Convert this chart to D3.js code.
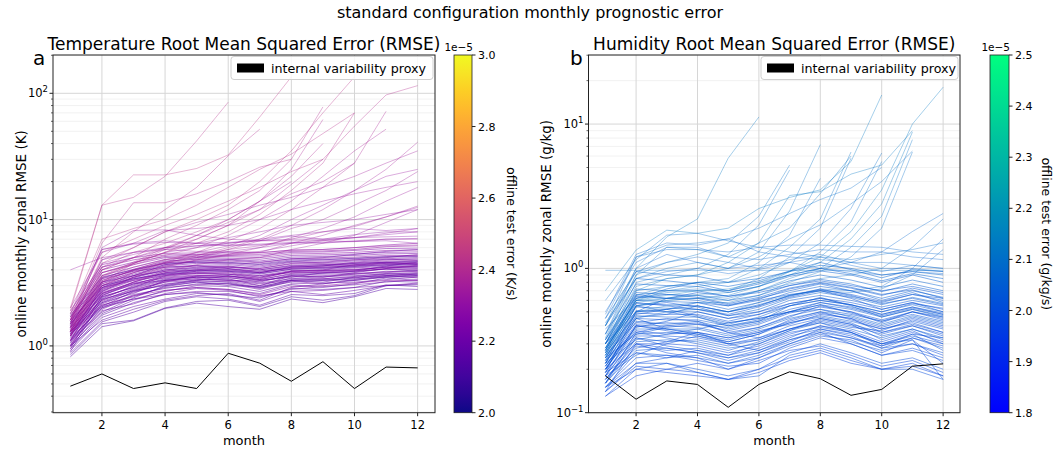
<!DOCTYPE html>
<html>
<head>
<meta charset="utf-8">
<script src="https://cdn.jsdelivr.net/npm/d3@7"></script>
<style>
body { margin: 0; background: #fff; }
text { font-family: "DejaVu Sans", sans-serif; fill: #000; }
</style>
</head>
<body>
<div id="chart"></div>
<script>
// months on x axis
const months = [1, 2, 3, 4, 5, 6, 7, 8, 9, 10, 11, 12];
const monthTicks = [2, 4, 6, 8, 10, 12];

// internal variability proxy (black line)
const tempProxy = [0.48, 0.60, 0.46, 0.51, 0.46, 0.875, 0.73, 0.525, 0.75, 0.46, 0.68, 0.67];
const humProxy = [0.18, 0.124, 0.166, 0.157, 0.109, 0.157, 0.192, 0.172, 0.132, 0.145, 0.21, 0.218];

// temperature RMSE (K), one row per run, months 1..12 (shorter rows = run stopped)
const tempCore = [
  [0.82,1.42,1.58,1.98,2.18,2.05,1.95,2.35,2.2,2.45,2.85,2.8],
  [0.88,1.55,1.85,2.25,2.45,2.35,2.1,2.55,2.5,2.6,3.05,2.95],
  [0.92,1.68,2.05,2.35,2.6,2.55,2.25,2.7,2.55,2.75,3.0,3.1],
  [0.95,1.75,2.2,2.55,2.65,2.5,2.4,2.85,2.8,2.9,3.25,3.2],
  [0.98,1.9,2.15,2.6,2.85,2.75,2.45,2.8,2.95,3.05,3.2,3.35],
  [1.0,1.8,2.3,2.75,2.9,2.8,2.6,3.05,2.9,3.1,3.45,3.3],
  [1.02,2.0,2.35,2.7,3.0,2.95,2.7,3.1,3.15,3.2,3.35,3.5],
  [1.05,1.95,2.5,2.9,3.05,3.1,2.8,3.25,3.1,3.35,3.6,3.45],
  [1.08,2.1,2.45,2.95,3.2,3.0,2.95,3.3,3.35,3.3,3.55,3.65],
  [1.1,2.15,2.65,3.1,3.25,3.25,3.0,3.45,3.4,3.55,3.75,3.6],
  [1.12,2.05,2.7,3.05,3.35,3.35,3.15,3.4,3.55,3.6,3.7,3.8],
  [1.15,2.25,2.75,3.25,3.4,3.3,3.25,3.6,3.5,3.7,3.9,3.85],
  [1.18,2.3,2.85,3.3,3.5,3.5,3.2,3.65,3.7,3.75,3.85,4.0],
  [1.2,2.4,2.95,3.4,3.55,3.6,3.35,3.7,3.75,3.9,4.05,3.95],
  [1.22,2.35,3.0,3.5,3.65,3.55,3.45,3.85,3.8,3.85,4.1,4.15],
  [1.25,2.5,3.1,3.55,3.75,3.7,3.5,3.9,3.95,4.0,4.2,4.1],
  [1.28,2.55,3.05,3.65,3.8,3.85,3.6,3.95,4.0,4.15,4.25,4.3],
  [1.3,2.6,3.2,3.7,3.9,3.9,3.7,4.05,4.1,4.2,4.35,4.25],
  [1.32,2.7,3.3,3.8,4.0,3.95,3.8,4.15,4.2,4.3,4.4,4.45],
  [1.35,2.75,3.35,3.9,4.1,4.05,3.9,4.25,4.3,4.35,4.55,4.5],
  [1.38,2.85,3.45,4.0,4.15,4.2,4.0,4.35,4.4,4.5,4.6,4.65],
  [1.4,2.9,3.5,4.1,4.3,4.25,4.1,4.45,4.5,4.55,4.7,4.75],
  [1.42,3.0,3.6,4.2,4.35,4.4,4.2,4.6,4.55,4.7,4.85,4.8],
  [1.45,3.1,3.7,4.3,4.5,4.5,4.3,4.65,4.7,4.8,4.9,5.0],
  [1.48,3.2,3.8,4.4,4.6,4.55,4.45,4.8,4.85,4.9,5.05,5.1],
  [1.5,3.3,3.95,4.55,4.7,4.7,4.55,4.9,4.95,5.05,5.2,5.2],
  [1.55,3.45,4.05,4.7,4.85,4.85,4.7,5.05,5.1,5.2,5.35,5.4],
  [1.6,3.6,4.2,4.85,5.0,4.95,4.85,5.2,5.25,5.35,5.5,5.55],
  [1.65,3.8,4.4,5.0,5.1,5.1,5.0,5.35,5.4,5.5,5.7,5.75],
  [1.7,4.0,4.6,5.1,5.25,5.2,5.15,5.5,5.55,5.7,5.9,5.95],
  [1.8,4.2,4.8,5.25,5.3,5.35,5.3,5.6,5.65,5.8,6.1,6.2],
  [1.9,4.4,5.0,5.4,5.45,5.5,5.45,5.75,5.8,6.0,6.3,6.5],
  [1.0,2.2,2.6,3.3,3.5,3.4,3.0,3.6,3.5,3.8,4.1,4.3],
  [1.1,1.85,2.4,3.0,3.3,3.6,3.3,3.5,3.8,3.9,4.3,4.6],
  [1.3,2.2,2.75,3.0,3.2,3.1,2.9,3.2,3.3,3.4,3.5,3.55],
  [1.2,2.6,3.1,3.3,3.4,3.3,3.1,3.3,3.4,3.5,3.6,3.7],
  [1.05,2.45,2.9,3.6,3.9,4.1,3.8,4.2,4.3,4.6,4.8,4.9],
  [1.15,2.0,2.55,2.85,3.1,3.15,2.85,3.3,3.2,3.5,3.6,3.7],
  [1.25,2.8,3.4,3.7,3.8,3.7,3.6,3.8,3.9,4.0,4.2,4.2],
  [1.35,2.3,2.8,3.2,3.6,3.7,3.4,3.9,4.0,4.4,4.6,4.4],
  [0.9,2.35,2.7,3.2,3.3,3.2,2.9,3.35,3.3,3.45,3.7,3.75],
  [1.4,2.45,2.9,3.35,3.5,3.45,3.3,3.55,3.6,3.7,3.8,3.9],
  [1.5,2.65,3.15,3.45,3.6,3.55,3.35,3.75,3.85,3.95,4.05,4.0],
  [1.6,2.9,3.3,3.6,3.75,3.8,3.5,3.9,3.95,4.05,4.15,4.35],
  [1.45,3.4,3.9,4.2,4.3,4.1,3.9,4.1,4.2,4.3,4.5,4.6],
  [1.2,2.9,3.6,4.4,4.7,4.8,4.6,4.9,5.0,5.3,5.6,5.8],
  [1.7,3.2,3.6,3.9,4.0,4.0,3.8,4.2,4.3,4.5,4.6,4.7],
  [1.1,2.7,3.5,4.0,4.2,4.3,4.0,4.3,4.4,4.4,4.5,4.5],
  [1.0,1.6,1.95,2.3,2.5,2.6,2.3,2.9,3.1,3.3,3.5,3.6],
  [0.95,2.5,3.2,3.8,4.0,4.2,4.1,4.5,4.6,4.8,5.0,5.3],
  [1.3,2.1,2.5,2.75,2.9,2.8,2.55,2.95,3.0,3.15,3.3,3.3],
  [1.55,3.0,3.4,3.75,3.95,3.9,3.75,4.05,4.15,4.25,4.4,4.4],
  [1.75,3.5,4.0,4.5,4.6,4.6,4.4,4.7,4.8,4.95,5.1,5.15],
  [1.25,2.05,2.35,2.55,2.7,2.7,2.5,2.7,2.75,2.9,3.0,3.15],
  [0.85,1.5,1.6,2.0,2.25,2.3,2.05,2.45,2.3,2.5,3.0,3.05]
];
const tempOutliers = [
  [2.0,5.5,6.5,6.8,6.5,6.6,6.8,7.0,7.0,7.2,7.3,7.4],
  [1.6,4.8,5.5,6.0,6.2,6.3,6.4,6.6,6.5,6.8,7.0,7.1],
  [1.5,6.0,8.2,8.3,7.5,7.0,6.8,6.8,6.8,6.7,7.0,7.0],
  [1.8,5.8,6.4,6.6,6.5,6.2,6.3,6.5,6.6,6.7,6.8,6.5],
  [4.0,5.0,5.5,5.8,5.6,5.6,5.5,5.7,5.8,6.0,6.2,6.3],
  [1.4,3.8,4.5,5.5,6.0,6.5,7.0,7.5,8.0,8.5,8.2,8.5],
  [1.6,4.2,5.0,5.8,6.2,6.5,6.8,7.4,7.0,7.6,8.0,8.0],
  [2.0,13,15,22,42,85],
  [1.9,13,22.6,22.6,25.4,32.5,65,135],
  [1.5,5,8,12,18,32,52],
  [1.7,5.5,7,9,11,14,18,24,30,55,97,115],
  [1.6,4.5,6,8,10,13,20,35,70,135],
  [1.4,4,5,7,9,12,17,30,78],
  [1.3,3.8,4.5,5.5,7,9,14,25,62],
  [1.5,4.2,5.5,6.5,8,10,14,22,40],
  [1.2,3.5,4.5,5.5,6.5,8,11,17,28,70],
  [1.4,3.6,4.4,5.2,6,7.5,10,14,22,35,52],
  [1.3,3.2,4.0,4.8,5.5,6.8,8.5,12,18,28,72],
  [1.2,3.0,3.8,4.5,5.2,6,7,9,12,17,25,41],
  [1.3,3.3,4,4.6,5,5.8,6.8,8.5,10,13,17,24],
  [1.1,2.8,3.5,4.2,4.8,5.3,6,7.2,8.5,10.5,14,18],
  [1.2,3.0,3.6,4.3,4.8,5.2,5.5,6.5,7.5,9,10.5,12.5],
  [1.35,3.4,4.2,4.8,5.2,5.8,6.2,7,8,8.8,10.5,12.8],
  [1.0,2.6,3.2,3.9,4.4,4.8,5,5.8,6.5,7.5,9.5,12],
  [1.25,3.1,3.9,4.5,4.9,5.3,5.6,6.2,6.8,7.2,7.8,8.5],
  [1.3,3.2,4.0,4.6,5.0,5.6,6,6.5,6.9,7.2,7.6,8.0],
  [1.8,7,8.5,10,13,18,25,33,48,70],
  [1.6,5.8,6.5,8.2,8.5,9,10,12,14,16,18,20],
  [1.3,4.0,5.0,6.0,7.5,9.5,12,16,20,28],
  [1.2,3.2,4.5,5.8,7.5,10,14,20],
  [1.3,3.6,4.6,6.0,7.0,9.0,12,19,30],
  [1.1,3.0,3.8,4.6,5.5,6.2,7.5,10,13,17,22,25],
  [1.5,4.5,5.3,6.0,6.5,7.2,8,9,9.5,10,11,12],
  [1.6,6.5,13.6,13.6,16,20,26,30],
  [1.4,4.8,6,8,9.5,11,13,15,18,22,28,35]
];
// offline test error of each run (units of 1e-5 K/s)
const tempCoreOffline = [2.14,2.16,2.18,2.15,2.2,2.17,2.19,2.22,2.16,2.21,2.18,2.23,2.2,2.15,2.24,2.19,
  2.22,2.17,2.25,2.21,2.18,2.26,2.2,2.23,2.19,2.27,2.22,2.24,2.28,2.25,2.3,2.29,
  2.2,2.18,2.16,2.21,2.23,2.17,2.22,2.24,2.19,2.21,2.25,2.26,2.22,2.2,2.18,2.23,2.17,2.24,2.27,2.16,2.15,2.2,2.14];
const tempOutlierOffline = [2.3,2.28,2.32,2.29,2.31,2.3,2.29,2.42,2.44,2.4,2.41,2.43,2.4,2.38,2.39,2.41,
  2.37,2.38,2.36,2.35,2.34,2.33,2.35,2.32,2.31,2.3,2.42,2.34,2.37,2.36,2.38,2.33,2.31,2.4,2.35];

// humidity RMSE (g/kg)
const humCore = [
  [0.13,0.2,0.19,0.18,0.17,0.19,0.23,0.26,0.22,0.2,0.21,0.18],
  [0.14,0.22,0.22,0.2,0.18,0.2,0.26,0.3,0.26,0.22,0.24,0.2],
  [0.15,0.24,0.25,0.23,0.21,0.22,0.28,0.33,0.3,0.25,0.28,0.24],
  [0.15,0.26,0.24,0.25,0.22,0.24,0.3,0.35,0.31,0.27,0.3,0.26],
  [0.16,0.27,0.28,0.26,0.24,0.26,0.32,0.37,0.33,0.28,0.33,0.28],
  [0.16,0.29,0.27,0.28,0.25,0.28,0.34,0.38,0.35,0.3,0.34,0.3],
  [0.17,0.3,0.3,0.29,0.26,0.29,0.35,0.4,0.37,0.31,0.36,0.31],
  [0.17,0.31,0.32,0.31,0.28,0.3,0.37,0.42,0.38,0.33,0.38,0.33],
  [0.18,0.33,0.31,0.32,0.29,0.32,0.38,0.44,0.4,0.35,0.4,0.35],
  [0.18,0.34,0.34,0.33,0.3,0.33,0.4,0.45,0.41,0.36,0.41,0.36],
  [0.19,0.35,0.36,0.35,0.31,0.35,0.42,0.47,0.43,0.38,0.43,0.38],
  [0.19,0.37,0.35,0.36,0.33,0.36,0.43,0.49,0.45,0.39,0.45,0.4],
  [0.2,0.38,0.38,0.38,0.34,0.38,0.45,0.5,0.47,0.41,0.47,0.42],
  [0.2,0.4,0.4,0.39,0.35,0.39,0.47,0.52,0.48,0.43,0.48,0.43],
  [0.21,0.41,0.42,0.41,0.37,0.41,0.49,0.54,0.5,0.44,0.5,0.45],
  [0.21,0.43,0.41,0.43,0.38,0.42,0.5,0.56,0.52,0.46,0.52,0.47],
  [0.22,0.45,0.44,0.44,0.4,0.44,0.52,0.58,0.54,0.48,0.54,0.49],
  [0.22,0.47,0.46,0.46,0.41,0.46,0.55,0.6,0.56,0.5,0.56,0.5],
  [0.23,0.49,0.48,0.48,0.43,0.48,0.57,0.62,0.58,0.52,0.58,0.52],
  [0.24,0.51,0.5,0.5,0.45,0.5,0.6,0.65,0.6,0.54,0.6,0.55],
  [0.25,0.54,0.53,0.52,0.47,0.52,0.62,0.68,0.63,0.56,0.63,0.57],
  [0.26,0.57,0.56,0.55,0.5,0.55,0.65,0.71,0.66,0.59,0.66,0.6],
  [0.27,0.6,0.59,0.58,0.52,0.58,0.68,0.75,0.7,0.62,0.7,0.63],
  [0.28,0.64,0.62,0.62,0.56,0.61,0.72,0.79,0.73,0.65,0.73,0.66],
  [0.3,0.68,0.66,0.65,0.6,0.65,0.76,0.84,0.78,0.69,0.78,0.7],
  [0.32,0.72,0.7,0.7,0.64,0.7,0.82,0.9,0.83,0.74,0.83,0.75],
  [0.35,0.78,0.76,0.75,0.68,0.75,0.88,0.96,0.9,0.8,0.9,0.8],
  [0.14,0.3,0.26,0.24,0.2,0.24,0.29,0.34,0.32,0.26,0.32,0.22],
  [0.18,0.25,0.3,0.34,0.3,0.27,0.33,0.4,0.36,0.29,0.35,0.27],
  [0.2,0.45,0.38,0.35,0.32,0.36,0.42,0.46,0.42,0.34,0.38,0.32],
  [0.16,0.36,0.4,0.42,0.36,0.33,0.38,0.43,0.39,0.37,0.44,0.39],
  [0.22,0.32,0.35,0.38,0.42,0.45,0.5,0.52,0.46,0.4,0.46,0.41],
  [0.25,0.42,0.45,0.43,0.36,0.39,0.46,0.55,0.5,0.42,0.5,0.46],
  [0.19,0.5,0.52,0.47,0.42,0.45,0.5,0.56,0.49,0.43,0.5,0.44],
  [0.28,0.55,0.5,0.46,0.4,0.43,0.55,0.63,0.55,0.46,0.52,0.46],
  [0.17,0.28,0.31,0.36,0.33,0.37,0.41,0.48,0.45,0.36,0.4,0.34],
  [0.23,0.36,0.33,0.3,0.27,0.31,0.37,0.45,0.41,0.32,0.37,0.3],
  [0.15,0.22,0.24,0.27,0.24,0.27,0.32,0.36,0.33,0.29,0.33,0.29],
  [0.21,0.39,0.43,0.5,0.45,0.48,0.55,0.6,0.56,0.5,0.57,0.53],
  [0.24,0.46,0.48,0.55,0.5,0.56,0.64,0.72,0.65,0.57,0.62,0.56],
  [0.27,0.62,0.66,0.63,0.57,0.63,0.73,0.8,0.74,0.66,0.71,0.62],
  [0.3,0.58,0.55,0.52,0.48,0.54,0.63,0.7,0.62,0.52,0.58,0.5],
  [0.18,0.4,0.37,0.34,0.31,0.35,0.44,0.5,0.44,0.38,0.42,0.36],
  [0.16,0.33,0.29,0.27,0.25,0.3,0.36,0.39,0.36,0.3,0.35,0.33],
  [0.2,0.3,0.28,0.26,0.23,0.26,0.31,0.38,0.34,0.28,0.3,0.25],
  [0.26,0.48,0.52,0.58,0.55,0.6,0.66,0.7,0.64,0.58,0.66,0.62],
  [0.14,0.21,0.2,0.22,0.2,0.23,0.27,0.29,0.25,0.21,0.23,0.19],
  [0.32,0.66,0.62,0.6,0.55,0.62,0.7,0.78,0.7,0.6,0.68,0.58],
  [0.24,0.35,0.39,0.41,0.39,0.43,0.5,0.58,0.53,0.47,0.53,0.48],
  [0.19,0.26,0.25,0.24,0.22,0.25,0.3,0.36,0.3,0.25,0.27,0.23],
  [0.22,0.55,0.58,0.54,0.47,0.5,0.57,0.62,0.56,0.48,0.54,0.48],
  [0.4,0.85,0.82,0.78,0.7,0.78,0.9,1.0,0.92,0.82,0.92,0.85],
  [0.45,0.95,0.9,0.88,0.8,0.85,0.95,1.05,1.0,0.9,0.95,0.9],
  [0.38,0.62,0.72,0.8,0.75,0.82,0.96,1.1,0.98,0.86,0.98,0.95],
  [0.13,0.18,0.2,0.19,0.17,0.2,0.24,0.27,0.23,0.2,0.22,0.18],
  [0.3,0.5,0.62,0.68,0.64,0.68,0.76,0.82,0.76,0.7,0.75,0.68],
  [0.15,0.2,0.22,0.19,0.17,0.18,0.25,0.28,0.24,0.2,0.2,0.17],
  [0.2,0.4,0.38,0.36,0.3,0.32,0.38,0.42,0.36,0.3,0.32,0.17]
];
const humOutliers = [
  [0.97,0.97,0.97,0.97,0.97,0.97,0.97,0.97,0.97,0.97,0.97,0.97],
  [0.45,1.2,1.35,1.35,1.3,1.4,1.45,1.45,1.42,1.4,1.3,1.25],
  [0.5,1.1,1.4,1.4,1.2,1.15,1.25,1.35,1.3,1.3,1.2,1.15],
  [0.4,0.95,1.1,1.2,1.1,1.0,1.15,1.25,1.1,1.1,1.05,1.0],
  [0.35,1.0,1.25,1.1,1.0,1.05,1.1,1.0,0.95,0.9,0.95,0.92],
  [0.42,0.85,0.95,1.0,0.92,0.98,1.1,1.2,1.05,0.95,1.05,1.0],
  [0.6,1.15,1.7,1.75,1.55,1.4,1.3,1.2,1.15,1.25,1.35,1.5],
  [0.48,1.25,1.5,1.45,1.6,1.3,1.2,1.15,1.1,1.0,1.0,0.95],
  [0.4,1.0,1.65,2.2,5.8,11.2],
  [0.7,1.34,1.84,1.75,1.9,2.6,3.1,3.5,5.5,15.9],
  [0.35,0.9,1.1,1.25,1.5,2.3,5.2],
  [0.3,0.8,0.9,1.0,1.25,2.0,4.8],
  [0.28,0.7,0.85,0.9,1.1,1.5,3.2,3.4,4.5,5.2,9.0],
  [0.3,0.75,0.85,0.9,1.0,1.3,2.5,7.2],
  [0.27,0.65,0.75,0.8,0.85,1.1,1.7,4.2],
  [0.25,0.6,0.7,0.75,0.8,1.0,1.4,2.2,6.4],
  [0.26,0.62,0.68,0.7,0.7,0.85,1.2,1.9,5.8],
  [0.3,0.7,0.75,0.8,0.8,0.9,1.1,1.5,2.6,6.3],
  [0.24,0.55,0.6,0.62,0.65,0.75,0.95,1.3,2.1,5.5],
  [0.28,0.6,0.65,0.7,0.72,0.8,0.95,1.2,1.8,3.5,10,18],
  [0.26,0.58,0.62,0.66,0.68,0.75,0.9,1.1,1.6,2.8,8.8],
  [0.25,0.55,0.6,0.62,0.6,0.7,0.85,1.0,1.4,2.3,7.8],
  [0.23,0.5,0.55,0.58,0.58,0.65,0.8,0.95,1.2,1.9,6.4],
  [0.3,0.65,0.7,0.72,0.7,0.8,0.9,1.0,1.1,1.3,1.8,2.4],
  [0.27,0.6,0.62,0.65,0.62,0.7,0.78,0.85,0.9,1.0,1.4,2.2],
  [0.22,0.45,0.5,0.52,0.5,0.55,0.65,0.72,0.7,0.75,1.0,1.6],
  [0.24,0.5,0.52,0.55,0.5,0.58,0.65,0.7,0.68,0.72,0.9,1.35],
  [0.32,0.85,1.0,1.1,1.0,1.2,1.6,2.0,2.8,4.0,6.5],
  [0.33,0.9,1.4,1.35,1.2,1.5,1.9,3.3,6.0],
  [0.4,1.2,1.45,1.5,1.6,1.9,2.4,3.0,3.6,5.0]
];
// offline test error of each run (units of 1e-5 g/kg/s)
const humCoreOffline = [1.98,2.0,1.99,2.01,2.02,2.0,1.98,2.03,2.01,2.0,2.02,1.99,2.04,2.01,2.0,2.03,
  2.02,2.04,2.01,2.03,2.05,2.02,2.04,2.03,2.05,2.06,2.05,1.99,2.01,2.02,2.0,2.03,2.01,2.02,2.04,
  2.0,2.01,1.99,2.02,2.03,2.04,2.02,2.0,2.01,1.99,2.03,1.98,2.04,2.02,2.0,2.02,2.06,2.07,2.06,1.98,2.03,2.0,2.01];
const humOutlierOffline = [2.1,2.08,2.07,2.08,2.06,2.07,2.09,2.08,2.12,2.13,2.11,2.1,2.12,2.11,2.1,2.11,
  2.1,2.09,2.1,2.13,2.12,2.11,2.1,2.08,2.09,2.07,2.08,2.1,2.11,2.09];

const suptitle = "standard configuration monthly prognostic error";

const svgWidth = 1057;
const svgHeight = 453;

const svg = d3.select("#chart")
  .append("svg")
  .attr("width", svgWidth)
  .attr("height", svgHeight);

const defs = svg.append("defs");

svg.append("text")
  .attr("x", 530)
  .attr("y", 18)
  .attr("text-anchor", "middle")
  .attr("font-size", 16)
  .text(suptitle);

const winter = d3.interpolateRgb("#0000ff", "#00ff80");

function drawPanel(p) {
  const x = d3.scaleLinear().domain([0.45, 12.55]).range([p.left, p.right]);
  const y = d3.scaleLog().domain(p.yDomain).range([p.bottom, p.top]);
  const c = d3.scaleLinear().domain(p.cDomain).range([0, 1]);

  defs.append("clipPath").attr("id", "clip-" + p.id)
    .append("rect")
    .attr("x", p.left).attr("y", p.top)
    .attr("width", p.right - p.left).attr("height", p.bottom - p.top);

  // log ticks
  const lo = Math.floor(Math.log10(p.yDomain[0]) - 1e-9);
  const hi = Math.ceil(Math.log10(p.yDomain[1]));
  const major = [], minor = [];
  for (let d = lo; d <= hi; d++) {
    const base = Math.pow(10, d);
    if (base >= p.yDomain[0] * 0.999 && base <= p.yDomain[1]) major.push(d);
    [2, 3, 4, 5, 6, 7, 8, 9].forEach(k => {
      const v = k * base;
      if (v >= p.yDomain[0] && v <= p.yDomain[1]) minor.push(v);
    });
  }

  const g = svg.append("g");

  // grid
  g.selectAll(".ygrid-minor").data(minor).enter().append("line")
    .attr("x1", p.left).attr("x2", p.right)
    .attr("y1", d => y(d)).attr("y2", d => y(d))
    .attr("stroke", "#ececec").attr("stroke-width", 0.7);
  g.selectAll(".ygrid").data(major).enter().append("line")
    .attr("x1", p.left).attr("x2", p.right)
    .attr("y1", d => y(Math.pow(10, d))).attr("y2", d => y(Math.pow(10, d)))
    .attr("stroke", "#d6d6d6").attr("stroke-width", 1);
  g.selectAll(".xgrid").data(monthTicks).enter().append("line")
    .attr("x1", d => x(d)).attr("x2", d => x(d))
    .attr("y1", p.top).attr("y2", p.bottom)
    .attr("stroke", "#d6d6d6").attr("stroke-width", 1);

  // runs
  const line = d3.line().x((d, i) => x(months[i])).y(d => y(d));
  const runs = [];
  p.core.forEach((r, i) => runs.push({ vals: r, off: p.coreOff[i] ?? p.cDefault, op: 0.62 }));
  p.outliers.forEach((r, i) => runs.push({ vals: r, off: p.outOff[i] ?? p.cDefault + 0.1, op: 0.45 }));

  g.append("g").attr("clip-path", "url(#clip-" + p.id + ")")
    .selectAll("path").data(runs).enter().append("path")
    .attr("d", d => line(d.vals))
    .attr("fill", "none")
    .attr("stroke", d => p.cmap(c(d.off)))
    .attr("stroke-opacity", d => d.op)
    .attr("stroke-width", 0.8);

  // proxy line
  g.append("path")
    .attr("d", line(p.proxy))
    .attr("fill", "none")
    .attr("stroke", "#000")
    .attr("stroke-width", 1);

  // frame
  g.append("rect")
    .attr("x", p.left).attr("y", p.top)
    .attr("width", p.right - p.left).attr("height", p.bottom - p.top)
    .attr("fill", "none").attr("stroke", "#222").attr("stroke-width", 1);

  // x ticks
  g.selectAll(".xt").data(monthTicks).enter().append("line")
    .attr("x1", d => x(d)).attr("x2", d => x(d))
    .attr("y1", p.bottom).attr("y2", p.bottom + 3.5)
    .attr("stroke", "#222");
  g.selectAll(".xl").data(monthTicks).enter().append("text")
    .attr("x", d => x(d)).attr("y", p.bottom + 16)
    .attr("text-anchor", "middle").attr("font-size", 11.5)
    .text(d => d);
  g.append("text")
    .attr("x", (p.left + p.right) / 2).attr("y", p.bottom + 32)
    .attr("text-anchor", "middle").attr("font-size", 13)
    .text("month");

  // y ticks
  g.selectAll(".ytm").data(minor).enter().append("line")
    .attr("x1", p.left - 2).attr("x2", p.left)
    .attr("y1", d => y(d)).attr("y2", d => y(d))
    .attr("stroke", "#222").attr("stroke-width", 0.7);
  g.selectAll(".yt").data(major).enter().append("line")
    .attr("x1", p.left - 3.5).attr("x2", p.left)
    .attr("y1", d => y(Math.pow(10, d))).attr("y2", d => y(Math.pow(10, d)))
    .attr("stroke", "#222");
  const yl = g.selectAll(".yl").data(major).enter().append("text")
    .attr("x", p.left - 5).attr("y", d => y(Math.pow(10, d)) + 4)
    .attr("text-anchor", "end").attr("font-size", 11.5);
  yl.append("tspan").text("10");
  yl.append("tspan").attr("dy", -5).attr("font-size", 8.5)
    .text(d => String(d).replace("-", "\u2212"));

  g.append("text")
    .attr("transform", `translate(${p.ylabX},${(p.top + p.bottom) / 2}) rotate(-90)`)
    .attr("text-anchor", "middle").attr("font-size", 13.5)
    .text(p.ylabel);

  // titles
  g.append("text")
    .attr("x", (p.left + p.right) / 2).attr("y", 50)
    .attr("text-anchor", "middle").attr("font-size", 17)
    .text(p.title);
  g.append("text")
    .attr("x", p.letterX).attr("y", 65)
    .attr("font-size", 20)
    .text(p.letter);

  // legend
  const lg = g.append("g");
  lg.append("rect")
    .attr("x", p.right - p.legendW).attr("y", p.top + 1.5)
    .attr("width", p.legendW - 2).attr("height", 23)
    .attr("rx", 3)
    .attr("fill", "#fff").attr("fill-opacity", 0.85)
    .attr("stroke", "#d0d0d0").attr("stroke-width", 1);
  lg.append("rect")
    .attr("x", p.right - p.legendW + 6).attr("y", p.top + 8.5)
    .attr("width", 27).attr("height", 9)
    .attr("fill", "#000");
  lg.append("text")
    .attr("x", p.right - p.legendW + 40).attr("y", p.top + 17.5)
    .attr("font-size", 12.7)
    .text("internal variability proxy");

  // colorbar
  const gradId = "grad-" + p.id;
  const grad = defs.append("linearGradient").attr("id", gradId)
    .attr("x1", 0).attr("y1", 1).attr("x2", 0).attr("y2", 0);
  for (let i = 0; i <= 20; i++) {
    grad.append("stop").attr("offset", i / 20).attr("stop-color", p.cmap(i / 20));
  }
  const cy = d3.scaleLinear().domain(p.cDomain).range([p.bottom, p.top]);
  g.append("rect")
    .attr("x", p.cbX).attr("y", p.top)
    .attr("width", p.cbW).attr("height", p.bottom - p.top)
    .attr("fill", `url(#${gradId})`)
    .attr("stroke", "#222").attr("stroke-width", 0.8);
  g.selectAll(".ct").data(p.cTicks).enter().append("line")
    .attr("x1", p.cbX + p.cbW).attr("x2", p.cbX + p.cbW + 3.5)
    .attr("y1", d => cy(d)).attr("y2", d => cy(d))
    .attr("stroke", "#222");
  g.selectAll(".cl").data(p.cTicks).enter().append("text")
    .attr("x", p.cbX + p.cbW + 6).attr("y", d => cy(d) + 4)
    .attr("font-size", 11)
    .text(d => d3.format(".1f")(d));
  g.append("text")
    .attr("x", p.cbX + p.cbW + 1).attr("y", p.top - 4)
    .attr("text-anchor", "end").attr("font-size", 10.5)
    .text("1e\u22125");
  g.append("text")
    .attr("transform", `translate(${p.cbLabX},${(p.top + p.bottom) / 2}) rotate(90)`)
    .attr("text-anchor", "middle").attr("font-size", 12.5)
    .text(p.clabel);
}

drawPanel({
  id: "t", left: 53, right: 435, top: 55, bottom: 412.7,
  yDomain: [0.296, 201],
  core: tempCore, outliers: tempOutliers,
  coreOff: tempCoreOffline, outOff: tempOutlierOffline, cDefault: 2.2,
  proxy: tempProxy,
  cmap: d3.interpolatePlasma, cDomain: [2.0, 3.0], cTicks: [2.0, 2.2, 2.4, 2.6, 2.8, 3.0],
  title: "Temperature Root Mean Squared Error (RMSE)", letter: "a", letterX: 33,
  ylabel: "online monthly zonal RMSE (K)", ylabX: 26,
  legendW: 204, cbX: 454, cbW: 18, cbLabX: 507,
  clabel: "offline test error (K/s)"
});

drawPanel({
  id: "h", left: 588.5, right: 960, top: 55, bottom: 412.7,
  yDomain: [0.1, 30.1],
  core: humCore, outliers: humOutliers,
  coreOff: humCoreOffline, outOff: humOutlierOffline, cDefault: 2.02,
  proxy: humProxy,
  cmap: winter, cDomain: [1.8, 2.5], cTicks: [1.8, 1.9, 2.0, 2.1, 2.2, 2.3, 2.4, 2.5],
  title: "Humidity Root Mean Squared Error (RMSE)", letter: "b", letterX: 570,
  ylabel: "online monthly zonal RMSE (g/kg)", ylabX: 551,
  legendW: 199, cbX: 990, cbW: 19, cbLabX: 1042,
  clabel: "offline test error (g/kg/s)"
});
</script>
</body>
</html>
